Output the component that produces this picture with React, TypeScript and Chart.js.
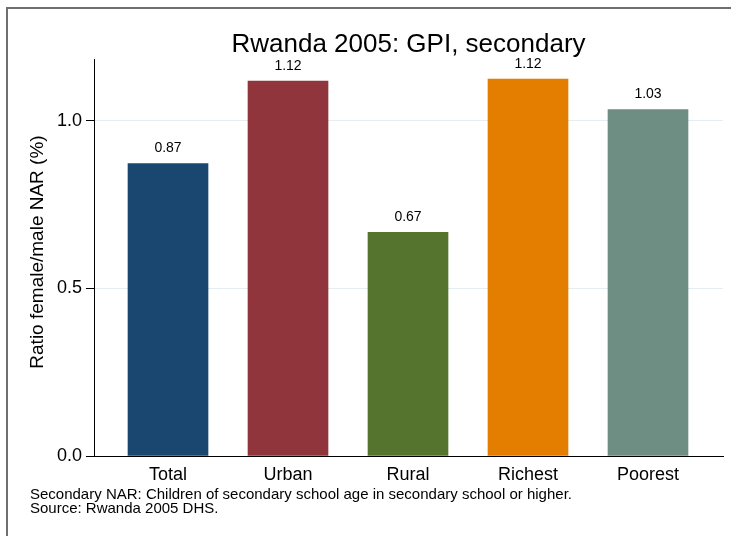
import React, { useEffect, useRef } from "react";
import { Chart, registerables } from "chart.js";

Chart.register(...registerables);

const categories = ["Total", "Urban", "Rural", "Richest", "Poorest"];
const values = [0.872, 1.118, 0.667, 1.124, 1.033];
const barColors = ["#1a476f", "#90353b", "#55752f", "#e37e00", "#6e8e84"];
const yTicks = [0, 0.5, 1.0];
const titleText = "Rwanda 2005: GPI, secondary";
const yTitle = "Ratio female/male NAR (%)";
const footnotes = [
  "Secondary NAR: Children of secondary school age in secondary school or higher.",
  "Source: Rwanda 2005 DHS.",
];

const FONT = "'Liberation Sans', Arial, Helvetica, sans-serif";

const textPlugin = {
  id: "textPlugin",
  afterDraw(chart: any) {
    const ctx = chart.ctx;
    const area = chart.chartArea;
    ctx.save();
    // frame
    ctx.strokeStyle = "#707070";
    ctx.lineWidth = 2;
    ctx.beginPath();
    ctx.moveTo(7, 536);
    ctx.lineTo(7, 8);
    ctx.lineTo(731, 8);
    ctx.stroke();

    // title
    ctx.fillStyle = "#000";
    ctx.textAlign = "center";
    ctx.textBaseline = "middle";
    ctx.font = `26px ${FONT}`;
    ctx.fillText(titleText, (area.left + area.right) / 2, 45);

    // y title
    ctx.save();
    ctx.translate(38, 252);
    ctx.rotate(-Math.PI / 2);
    ctx.font = `19px ${FONT}`;
    ctx.fillText(yTitle, 0, 0);
    ctx.restore();

    // value labels
    const meta = chart.getDatasetMeta(0);
    ctx.font = `14px ${FONT}`;
    meta.data.forEach((el: any, i: number) => {
      ctx.fillText(values[i].toFixed(2), el.x, el.y - 15);
    });

    // footnotes
    ctx.textAlign = "left";
    ctx.font = `15px ${FONT}`;
    footnotes.forEach((line, i) => {
      ctx.fillText(line, 30, 495 + i * 14);
    });
    ctx.restore();
  },
};

export default function App() {
  const ref = useRef<HTMLCanvasElement>(null);
  useEffect(() => {
    if (!ref.current) return;
    const chart = new Chart(ref.current, {
      type: "bar",
      data: {
        datasets: [
          {
            data: values.map((v, i) => ({ x: i, y: v })),
            backgroundColor: barColors,
            barThickness: 80,
            borderWidth: 0,
          },
        ],
      },
      options: {
        animation: false,
        responsive: false,
        devicePixelRatio: 1,
        layout: { padding: { left: 0, top: 59, right: 8, bottom: 50 } },
        plugins: {
          legend: { display: false },
          tooltip: { enabled: false },
          title: { display: false },
        },
        scales: {
          x: {
            type: "linear",
            offset: false,
            min: -0.6167,
            max: 4.625,
            afterBuildTicks: (axis: any) => {
              axis.ticks = categories.map((_, i) => ({ value: i }));
            },
            afterFit: (s: any) => {
              s.height = 30;
            },
            ticks: {
              callback: (v: any) => categories[Math.round(Number(v))] ?? "",
              font: { size: 18, family: FONT },
              color: "#000",
              padding: 8,
              autoSkip: false,
              maxRotation: 0,
            },
            grid: { drawOnChartArea: false, drawTicks: false, offset: false },
            border: { color: "#000", width: 1 },
          },
          y: {
            min: 0,
            max: 1.184,
            afterBuildTicks: (axis: any) => {
              axis.ticks = yTicks.map((v) => ({ value: v }));
            },
            afterFit: (s: any) => {
              s.width = 94;
            },
            ticks: {
              callback: (v: any) => Number(v).toFixed(1),
              font: { size: 18, family: FONT },
              color: "#000",
              padding: 4,
            },
            grid: {
              color: (c: any) => (c.tick && c.tick.value === 0 ? "rgba(0,0,0,0)" : "#e4edf1"),
              tickColor: "#000",
              tickLength: 8,
              lineWidth: 1,
            },
            border: { color: "#000", width: 1 },
          },
        },
      },
      plugins: [textPlugin],
    });
    return () => chart.destroy();
  }, []);
  return (
    <div style={{ position: "absolute", left: 0, top: 0, width: 731, height: 536 }}>
      <canvas ref={ref} width={731} height={536} style={{ display: "block" }} />
    </div>
  );
}
